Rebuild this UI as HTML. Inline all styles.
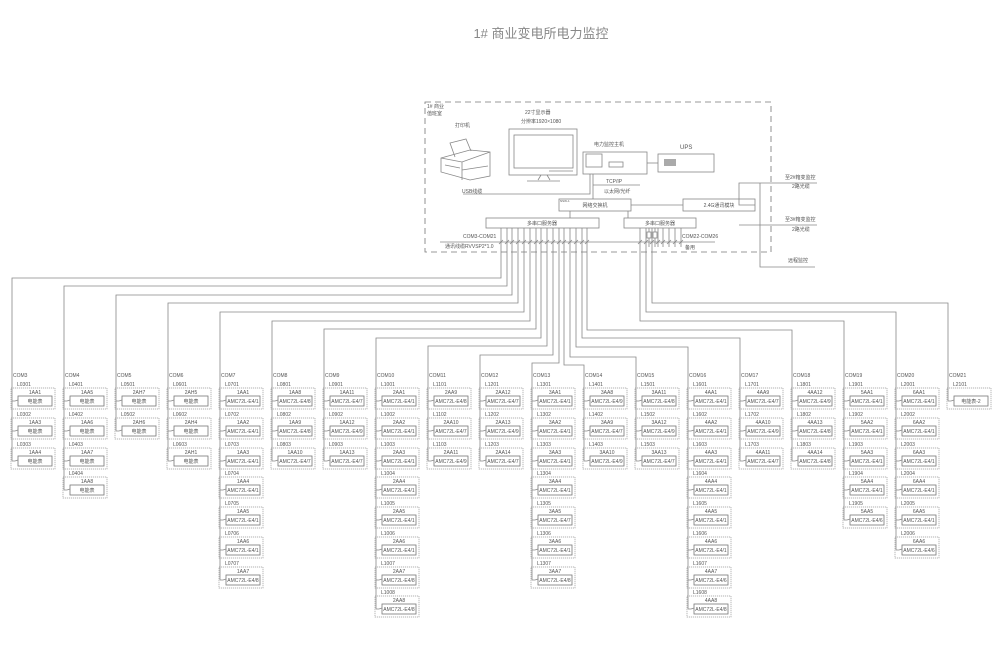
<!DOCTYPE html>
<html><head><meta charset="utf-8"><style>
html,body{margin:0;padding:0;background:#fff}
svg{display:block}
text{font-family:"Liberation Sans","Noto Sans CJK SC",sans-serif;fill:#555;font-size:5px}
.c{text-anchor:middle}
.l{stroke:#888;stroke-width:0.8;fill:none}
.d{stroke:#999;stroke-width:0.7;fill:none;stroke-dasharray:1.2 0.8}
.s{stroke:#777;stroke-width:0.8;fill:#fff}
</style></head><body>
<svg width="1000" height="672" viewBox="0 0 1000 672" xmlns="http://www.w3.org/2000/svg">
<defs>
<g id="u"><rect class="d" x="-1" y="0" width="44" height="21"/><rect class="s" x="6" y="8" width="34" height="10"/><path class="l" d="M0 13H3L6 12"/></g>
</defs>
<text x="541" y="38" class="c" style="font-size:13px;fill:#888">1# 商业变电所电力监控</text>

<!-- top room -->
<rect x="425" y="102" width="346" height="150" fill="none" stroke="#777" stroke-width="0.8" stroke-dasharray="6 4"/>
<text x="427" y="108">1# 商业</text><text x="427" y="115">值班室</text>
<!-- printer -->
<text x="455" y="127">打印机</text>
<path class="l" d="M441 158L470 150L490 152L490 176L470 180L441 172Z M441 158L462 162L490 152 M462 162V180 M455 157L450 143L466 139L471 151 M462 170L488 166 M445 165L460 168"/>
<text x="462" y="193">USB线缆</text>
<!-- monitor -->
<text x="525" y="114">22寸显示器</text><text x="521" y="123">分辨率1920×1080</text>
<rect x="509" y="129" width="68" height="46" class="l"/>
<rect x="514" y="135" width="59" height="33" class="l"/>
<path class="l" d="M549 171H573 M541 175L538 180M547 175L550 180M527 181H560"/>
<!-- computer -->
<text x="594" y="146">电力监控主机</text>
<rect x="583" y="152" width="64" height="22" class="l"/>
<rect x="586" y="154" width="16" height="13" class="l"/>
<rect x="609" y="162" width="14" height="5" class="l"/>
<path class="l" d="M647 163H658"/>
<text x="680" y="149" style="font-size:6px">UPS</text>
<rect x="658" y="154" width="56" height="18" class="l"/>
<rect x="664" y="159" width="12" height="7" fill="#aaa"/>
<path class="l" d="M463 194H590V174 M593 174V199 M593 185H640"/>
<text x="606" y="183">TCP/IP</text><text x="604" y="193">以太网/光纤</text>
<!-- switch -->
<rect x="559" y="199" width="72" height="12" class="l"/><text x="595" y="207" class="c">网络交换机</text>
<text x="560" y="202" style="font-size:3px">NSW-1</text>
<path class="l" d="M631 205H683"/>
<rect x="683" y="199" width="72" height="12" class="l"/><text x="719" y="207" class="c">2.4G通讯模块</text>
<path class="l" d="M570 211V218 M628 211V218"/>
<rect x="486" y="218" width="113" height="10" class="l"/><text x="542" y="225" class="c">多串口服务器</text>
<rect x="624" y="218" width="72" height="10" class="l"/><text x="660" y="225" class="c">多串口服务器</text>
<path class="l" d="M440 242H715"/>
<text x="463" y="238">COM3-COM21</text><text x="445" y="248">通讯线缆RVVSP2*1.0</text>
<text x="682" y="238">COM22-COM26</text><text x="685" y="249">备用</text>
<!-- right side -->
<path class="l" d="M755 205H739V183H817 M739 225H817 M760 183V267H815"/>
<text x="785" y="179">至2#箱变监控</text><text x="792" y="188">2路光缆</text>
<text x="785" y="221">至3#箱变监控</text><text x="792" y="231">2路光缆</text>
<text x="788" y="262">远程监控</text>
<!-- right bus short drops -->
<path class="l" d="M658 228V247M663 228V247M669 228V247M675 228V247M681 228V247M649 228V232M655 228V232"/>
<rect x="647" y="232" width="4" height="6" class="l"/><rect x="653" y="232" width="4" height="6" class="l"/>
<path class="l" d="M649 238V247M655 238V247"/>
<path class="l" stroke-width="0.5" d="M499 244l4 -4M505 244l4 -4M510 244l4 -4M516 244l4 -4M522 244l4 -4M528 244l4 -4M534 244l4 -4M539 244l4 -4M545 244l4 -4M551 244l4 -4M557 244l4 -4M562 244l4 -4M568 244l4 -4M574 244l4 -4M580 244l4 -4M585 244l4 -4M638 244l4 -4M644 244l4 -4M650 244l4 -4M656 244l4 -4M661 244l4 -4M667 244l4 -4M673 244l4 -4M679 244l4 -4"/>

<!-- routes -->
<path class="l" d="M501 228V278H12V461 M507 228V286H64V490 M512 228V295H116V431 M518 228V303H168V461 M524 228V312H220V580 M530 228V321H272V461 M536 228V329H324V461 M541 228V338H376V609 M547 228V346H428V461 M553 228V355H480V461 M559 228V363H532V580 M564 228V365H584V461 M570 228V357H636V461 M576 228V347H688V609 M582 228V338H740V461 M587 228V330H792V461 M640 228V321H844V520 M646 228V312H896V550 M652 228V303H948V401"/>

<!-- column headers -->
<text x="13" y="377">COM3</text><text x="65" y="377">COM4</text><text x="117" y="377">COM5</text><text x="169" y="377">COM6</text><text x="221" y="377">COM7</text><text x="273" y="377">COM8</text><text x="325" y="377">COM9</text><text x="377" y="377">COM10</text><text x="429" y="377">COM11</text><text x="481" y="377">COM12</text><text x="533" y="377">COM13</text><text x="585" y="377">COM14</text><text x="637" y="377">COM15</text><text x="689" y="377">COM16</text><text x="741" y="377">COM17</text><text x="793" y="377">COM18</text><text x="845" y="377">COM19</text><text x="897" y="377">COM20</text><text x="949" y="377">COM21</text>

<!-- COM3 -->
<g transform="translate(12,388)"><use href="#u"/><text x="5" y="-2">L0301</text><text x="23" y="6" class="c">1AA1</text><text x="23" y="15" class="c">电能表</text></g>
<g transform="translate(12,418)"><use href="#u"/><text x="5" y="-2">L0302</text><text x="23" y="6" class="c">1AA3</text><text x="23" y="15" class="c">电能表</text></g>
<g transform="translate(12,448)"><use href="#u"/><text x="5" y="-2">L0303</text><text x="23" y="6" class="c">1AA4</text><text x="23" y="15" class="c">电能表</text></g>
<!-- COM4 -->
<g transform="translate(64,388)"><use href="#u"/><text x="5" y="-2">L0401</text><text x="23" y="6" class="c">1AA5</text><text x="23" y="15" class="c">电能表</text></g>
<g transform="translate(64,418)"><use href="#u"/><text x="5" y="-2">L0402</text><text x="23" y="6" class="c">1AA6</text><text x="23" y="15" class="c">电能表</text></g>
<g transform="translate(64,448)"><use href="#u"/><text x="5" y="-2">L0403</text><text x="23" y="6" class="c">1AA7</text><text x="23" y="15" class="c">电能表</text></g>
<g transform="translate(64,477)"><use href="#u"/><text x="5" y="-2">L0404</text><text x="23" y="6" class="c">1AA8</text><text x="23" y="15" class="c">电能表</text></g>
<!-- COM5 -->
<g transform="translate(116,388)"><use href="#u"/><text x="5" y="-2">L0501</text><text x="23" y="6" class="c">2AH7</text><text x="23" y="15" class="c">电能表</text></g>
<g transform="translate(116,418)"><use href="#u"/><text x="5" y="-2">L0502</text><text x="23" y="6" class="c">2AH6</text><text x="23" y="15" class="c">电能表</text></g>
<!-- COM6 -->
<g transform="translate(168,388)"><use href="#u"/><text x="5" y="-2">L0601</text><text x="23" y="6" class="c">2AH5</text><text x="23" y="15" class="c">电能表</text></g>
<g transform="translate(168,418)"><use href="#u"/><text x="5" y="-2">L0602</text><text x="23" y="6" class="c">2AH4</text><text x="23" y="15" class="c">电能表</text></g>
<g transform="translate(168,448)"><use href="#u"/><text x="5" y="-2">L0603</text><text x="23" y="6" class="c">2AH1</text><text x="23" y="15" class="c">电能表</text></g>
<!-- COM7 -->
<g transform="translate(220,388)"><use href="#u"/><text x="5" y="-2">L0701</text><text x="23" y="6" class="c">1AA1</text><text x="23" y="15" class="c">AMC72L-E4/1</text></g>
<g transform="translate(220,418)"><use href="#u"/><text x="5" y="-2">L0702</text><text x="23" y="6" class="c">1AA2</text><text x="23" y="15" class="c">AMC72L-E4/1</text></g>
<g transform="translate(220,448)"><use href="#u"/><text x="5" y="-2">L0703</text><text x="23" y="6" class="c">1AA3</text><text x="23" y="15" class="c">AMC72L-E4/1</text></g>
<g transform="translate(220,477)"><use href="#u"/><text x="5" y="-2">L0704</text><text x="23" y="6" class="c">1AA4</text><text x="23" y="15" class="c">AMC72L-E4/1</text></g>
<g transform="translate(220,507)"><use href="#u"/><text x="5" y="-2">L0705</text><text x="23" y="6" class="c">1AA5</text><text x="23" y="15" class="c">AMC72L-E4/1</text></g>
<g transform="translate(220,537)"><use href="#u"/><text x="5" y="-2">L0706</text><text x="23" y="6" class="c">1AA6</text><text x="23" y="15" class="c">AMC72L-E4/1</text></g>
<g transform="translate(220,567)"><use href="#u"/><text x="5" y="-2">L0707</text><text x="23" y="6" class="c">1AA7</text><text x="23" y="15" class="c">AMC72L-E4/8</text></g>
<!-- COM8 -->
<g transform="translate(272,388)"><use href="#u"/><text x="5" y="-2">L0801</text><text x="23" y="6" class="c">1AA8</text><text x="23" y="15" class="c">AMC72L-E4/8</text></g>
<g transform="translate(272,418)"><use href="#u"/><text x="5" y="-2">L0802</text><text x="23" y="6" class="c">1AA9</text><text x="23" y="15" class="c">AMC72L-E4/8</text></g>
<g transform="translate(272,448)"><use href="#u"/><text x="5" y="-2">L0803</text><text x="23" y="6" class="c">1AA10</text><text x="23" y="15" class="c">AMC72L-E4/7</text></g>
<!-- COM9 -->
<g transform="translate(324,388)"><use href="#u"/><text x="5" y="-2">L0901</text><text x="23" y="6" class="c">1AA11</text><text x="23" y="15" class="c">AMC72L-E4/7</text></g>
<g transform="translate(324,418)"><use href="#u"/><text x="5" y="-2">L0902</text><text x="23" y="6" class="c">1AA12</text><text x="23" y="15" class="c">AMC72L-E4/9</text></g>
<g transform="translate(324,448)"><use href="#u"/><text x="5" y="-2">L0903</text><text x="23" y="6" class="c">1AA13</text><text x="23" y="15" class="c">AMC72L-E4/7</text></g>
<!-- COM10 -->
<g transform="translate(376,388)"><use href="#u"/><text x="5" y="-2">L1001</text><text x="23" y="6" class="c">2AA1</text><text x="23" y="15" class="c">AMC72L-E4/1</text></g>
<g transform="translate(376,418)"><use href="#u"/><text x="5" y="-2">L1002</text><text x="23" y="6" class="c">2AA2</text><text x="23" y="15" class="c">AMC72L-E4/1</text></g>
<g transform="translate(376,448)"><use href="#u"/><text x="5" y="-2">L1003</text><text x="23" y="6" class="c">2AA3</text><text x="23" y="15" class="c">AMC72L-E4/1</text></g>
<g transform="translate(376,477)"><use href="#u"/><text x="5" y="-2">L1004</text><text x="23" y="6" class="c">2AA4</text><text x="23" y="15" class="c">AMC72L-E4/1</text></g>
<g transform="translate(376,507)"><use href="#u"/><text x="5" y="-2">L1005</text><text x="23" y="6" class="c">2AA5</text><text x="23" y="15" class="c">AMC72L-E4/1</text></g>
<g transform="translate(376,537)"><use href="#u"/><text x="5" y="-2">L1006</text><text x="23" y="6" class="c">2AA6</text><text x="23" y="15" class="c">AMC72L-E4/1</text></g>
<g transform="translate(376,567)"><use href="#u"/><text x="5" y="-2">L1007</text><text x="23" y="6" class="c">2AA7</text><text x="23" y="15" class="c">AMC72L-E4/8</text></g>
<g transform="translate(376,596)"><use href="#u"/><text x="5" y="-2">L1008</text><text x="23" y="6" class="c">2AA8</text><text x="23" y="15" class="c">AMC72L-E4/8</text></g>
<!-- COM11 -->
<g transform="translate(428,388)"><use href="#u"/><text x="5" y="-2">L1101</text><text x="23" y="6" class="c">2AA9</text><text x="23" y="15" class="c">AMC72L-E4/8</text></g>
<g transform="translate(428,418)"><use href="#u"/><text x="5" y="-2">L1102</text><text x="23" y="6" class="c">2AA10</text><text x="23" y="15" class="c">AMC72L-E4/7</text></g>
<g transform="translate(428,448)"><use href="#u"/><text x="5" y="-2">L1103</text><text x="23" y="6" class="c">2AA11</text><text x="23" y="15" class="c">AMC72L-E4/9</text></g>
<!-- COM12 -->
<g transform="translate(480,388)"><use href="#u"/><text x="5" y="-2">L1201</text><text x="23" y="6" class="c">2AA12</text><text x="23" y="15" class="c">AMC72L-E4/7</text></g>
<g transform="translate(480,418)"><use href="#u"/><text x="5" y="-2">L1202</text><text x="23" y="6" class="c">2AA13</text><text x="23" y="15" class="c">AMC72L-E4/9</text></g>
<g transform="translate(480,448)"><use href="#u"/><text x="5" y="-2">L1203</text><text x="23" y="6" class="c">2AA14</text><text x="23" y="15" class="c">AMC72L-E4/7</text></g>
<!-- COM13 -->
<g transform="translate(532,388)"><use href="#u"/><text x="5" y="-2">L1301</text><text x="23" y="6" class="c">3AA1</text><text x="23" y="15" class="c">AMC72L-E4/1</text></g>
<g transform="translate(532,418)"><use href="#u"/><text x="5" y="-2">L1302</text><text x="23" y="6" class="c">3AA2</text><text x="23" y="15" class="c">AMC72L-E4/1</text></g>
<g transform="translate(532,448)"><use href="#u"/><text x="5" y="-2">L1303</text><text x="23" y="6" class="c">3AA3</text><text x="23" y="15" class="c">AMC72L-E4/1</text></g>
<g transform="translate(532,477)"><use href="#u"/><text x="5" y="-2">L1304</text><text x="23" y="6" class="c">3AA4</text><text x="23" y="15" class="c">AMC72L-E4/1</text></g>
<g transform="translate(532,507)"><use href="#u"/><text x="5" y="-2">L1305</text><text x="23" y="6" class="c">3AA5</text><text x="23" y="15" class="c">AMC72L-E4/7</text></g>
<g transform="translate(532,537)"><use href="#u"/><text x="5" y="-2">L1306</text><text x="23" y="6" class="c">3AA6</text><text x="23" y="15" class="c">AMC72L-E4/1</text></g>
<g transform="translate(532,567)"><use href="#u"/><text x="5" y="-2">L1307</text><text x="23" y="6" class="c">3AA7</text><text x="23" y="15" class="c">AMC72L-E4/8</text></g>
<!-- COM14 -->
<g transform="translate(584,388)"><use href="#u"/><text x="5" y="-2">L1401</text><text x="23" y="6" class="c">3AA8</text><text x="23" y="15" class="c">AMC72L-E4/9</text></g>
<g transform="translate(584,418)"><use href="#u"/><text x="5" y="-2">L1402</text><text x="23" y="6" class="c">3AA9</text><text x="23" y="15" class="c">AMC72L-E4/7</text></g>
<g transform="translate(584,448)"><use href="#u"/><text x="5" y="-2">L1403</text><text x="23" y="6" class="c">3AA10</text><text x="23" y="15" class="c">AMC72L-E4/9</text></g>
<!-- COM15 -->
<g transform="translate(636,388)"><use href="#u"/><text x="5" y="-2">L1501</text><text x="23" y="6" class="c">3AA11</text><text x="23" y="15" class="c">AMC72L-E4/8</text></g>
<g transform="translate(636,418)"><use href="#u"/><text x="5" y="-2">L1502</text><text x="23" y="6" class="c">3AA12</text><text x="23" y="15" class="c">AMC72L-E4/9</text></g>
<g transform="translate(636,448)"><use href="#u"/><text x="5" y="-2">L1503</text><text x="23" y="6" class="c">3AA13</text><text x="23" y="15" class="c">AMC72L-E4/7</text></g>
<!-- COM16 -->
<g transform="translate(688,388)"><use href="#u"/><text x="5" y="-2">L1601</text><text x="23" y="6" class="c">4AA1</text><text x="23" y="15" class="c">AMC72L-E4/1</text></g>
<g transform="translate(688,418)"><use href="#u"/><text x="5" y="-2">L1602</text><text x="23" y="6" class="c">4AA2</text><text x="23" y="15" class="c">AMC72L-E4/1</text></g>
<g transform="translate(688,448)"><use href="#u"/><text x="5" y="-2">L1603</text><text x="23" y="6" class="c">4AA3</text><text x="23" y="15" class="c">AMC72L-E4/1</text></g>
<g transform="translate(688,477)"><use href="#u"/><text x="5" y="-2">L1604</text><text x="23" y="6" class="c">4AA4</text><text x="23" y="15" class="c">AMC72L-E4/1</text></g>
<g transform="translate(688,507)"><use href="#u"/><text x="5" y="-2">L1605</text><text x="23" y="6" class="c">4AA5</text><text x="23" y="15" class="c">AMC72L-E4/1</text></g>
<g transform="translate(688,537)"><use href="#u"/><text x="5" y="-2">L1606</text><text x="23" y="6" class="c">4AA6</text><text x="23" y="15" class="c">AMC72L-E4/1</text></g>
<g transform="translate(688,567)"><use href="#u"/><text x="5" y="-2">L1607</text><text x="23" y="6" class="c">4AA7</text><text x="23" y="15" class="c">AMC72L-E4/6</text></g>
<g transform="translate(688,596)"><use href="#u"/><text x="5" y="-2">L1608</text><text x="23" y="6" class="c">4AA8</text><text x="23" y="15" class="c">AMC72L-E4/8</text></g>
<!-- COM17 -->
<g transform="translate(740,388)"><use href="#u"/><text x="5" y="-2">L1701</text><text x="23" y="6" class="c">4AA9</text><text x="23" y="15" class="c">AMC72L-E4/7</text></g>
<g transform="translate(740,418)"><use href="#u"/><text x="5" y="-2">L1702</text><text x="23" y="6" class="c">4AA10</text><text x="23" y="15" class="c">AMC72L-E4/9</text></g>
<g transform="translate(740,448)"><use href="#u"/><text x="5" y="-2">L1703</text><text x="23" y="6" class="c">4AA11</text><text x="23" y="15" class="c">AMC72L-E4/7</text></g>
<!-- COM18 -->
<g transform="translate(792,388)"><use href="#u"/><text x="5" y="-2">L1801</text><text x="23" y="6" class="c">4AA12</text><text x="23" y="15" class="c">AMC72L-E4/9</text></g>
<g transform="translate(792,418)"><use href="#u"/><text x="5" y="-2">L1802</text><text x="23" y="6" class="c">4AA13</text><text x="23" y="15" class="c">AMC72L-E4/8</text></g>
<g transform="translate(792,448)"><use href="#u"/><text x="5" y="-2">L1803</text><text x="23" y="6" class="c">4AA14</text><text x="23" y="15" class="c">AMC72L-E4/8</text></g>
<!-- COM19 -->
<g transform="translate(844,388)"><use href="#u"/><text x="5" y="-2">L1901</text><text x="23" y="6" class="c">5AA1</text><text x="23" y="15" class="c">AMC72L-E4/1</text></g>
<g transform="translate(844,418)"><use href="#u"/><text x="5" y="-2">L1902</text><text x="23" y="6" class="c">5AA2</text><text x="23" y="15" class="c">AMC72L-E4/1</text></g>
<g transform="translate(844,448)"><use href="#u"/><text x="5" y="-2">L1903</text><text x="23" y="6" class="c">5AA3</text><text x="23" y="15" class="c">AMC72L-E4/1</text></g>
<g transform="translate(844,477)"><use href="#u"/><text x="5" y="-2">L1904</text><text x="23" y="6" class="c">5AA4</text><text x="23" y="15" class="c">AMC72L-E4/1</text></g>
<g transform="translate(844,507)"><use href="#u"/><text x="5" y="-2">L1905</text><text x="23" y="6" class="c">5AA5</text><text x="23" y="15" class="c">AMC72L-E4/6</text></g>
<!-- COM20 -->
<g transform="translate(896,388)"><use href="#u"/><text x="5" y="-2">L2001</text><text x="23" y="6" class="c">6AA1</text><text x="23" y="15" class="c">AMC72L-E4/1</text></g>
<g transform="translate(896,418)"><use href="#u"/><text x="5" y="-2">L2002</text><text x="23" y="6" class="c">6AA2</text><text x="23" y="15" class="c">AMC72L-E4/1</text></g>
<g transform="translate(896,448)"><use href="#u"/><text x="5" y="-2">L2003</text><text x="23" y="6" class="c">6AA3</text><text x="23" y="15" class="c">AMC72L-E4/1</text></g>
<g transform="translate(896,477)"><use href="#u"/><text x="5" y="-2">L2004</text><text x="23" y="6" class="c">6AA4</text><text x="23" y="15" class="c">AMC72L-E4/1</text></g>
<g transform="translate(896,507)"><use href="#u"/><text x="5" y="-2">L2005</text><text x="23" y="6" class="c">6AA5</text><text x="23" y="15" class="c">AMC72L-E4/1</text></g>
<g transform="translate(896,537)"><use href="#u"/><text x="5" y="-2">L2006</text><text x="23" y="6" class="c">6AA6</text><text x="23" y="15" class="c">AMC72L-E4/6</text></g>
<!-- COM21 -->
<g transform="translate(948,388)"><use href="#u"/><text x="5" y="-2">L2101</text><text x="23" y="15" class="c">电能表-2</text></g>
</svg>
</body></html>
